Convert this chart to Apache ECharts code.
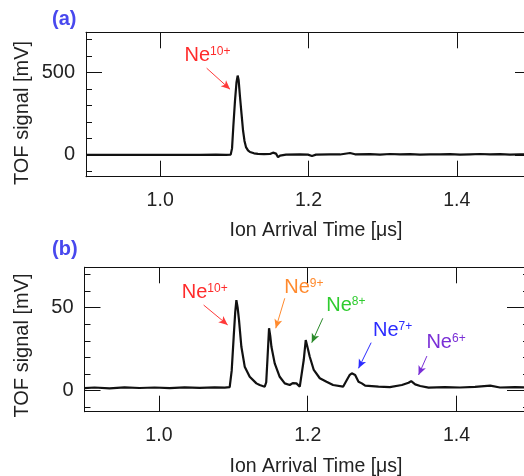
<!DOCTYPE html>
<html>
<head>
<meta charset="utf-8">
<script src="https://cdn.jsdelivr.net/npm/echarts@6/dist/echarts.min.js"></script>
<style>html,body{margin:0;padding:0;background:#fff}#c{width:524px;height:476px}</style>
</head>
<body>
<div id="c"></div>
<script>
// ---------- data ----------
const xTickValues = [1.0, 1.2, 1.4];
const xRange = [0.9, 1.5];

const topRange = [-132, 745];
const topMajor = [0, 500];
const topMinor = [-100, 100, 200, 300, 400, 600, 700];
const botRange = [-12.8, 74.4];
const botMajor = [0, 50];
const botMinor = [-10, 10, 20, 30, 40, 60, 70];

// panel (a): arrival time [us], signal [mV]
const timeA = [0.9000,0.9189,0.9458,0.9728,0.9998,1.0267,1.0537,1.0753,1.0888,1.0951,1.0969,1.0986,1.1009,1.1029,1.1045,1.1058,1.1076,1.1097,1.1117,1.1137,1.1157,1.1184,1.1211,1.1265,1.1319,1.1400,1.1481,1.1521,1.1542,1.1562,1.1589,1.1616,1.1697,1.1885,1.1993,1.2047,1.2101,1.2290,1.2425,1.2560,1.2627,1.2829,1.2964,1.3099,1.3234,1.3369,1.3503,1.3638,1.3773,1.3908,1.4043,1.4178,1.4313,1.4447,1.4582,1.4717,1.4852,1.5000];
const signalA = [0,1,0,1,0,1,0,2,1,2,40,170,330,440,482,455,355,250,150,85,48,28,18,10,7,5,6,14,26,8,-14,-4,2,4,2,-6,2,4,3,12,4,5,2,6,3,5,2,4,3,5,2,4,6,3,5,2,4,3];

// panel (b)
const timeB = [0.9000,0.9135,0.9336,0.9538,0.9740,0.9942,1.0144,1.0345,1.0547,1.0749,1.0884,1.0951,1.0978,1.1005,1.1025,1.1041,1.1058,1.1076,1.1108,1.1153,1.1220,1.1310,1.1354,1.1422,1.1442,1.1458,1.1480,1.1496,1.1512,1.1556,1.1623,1.1691,1.1758,1.1798,1.1848,1.1893,1.1915,1.1946,1.1973,1.2000,1.2027,1.2081,1.2162,1.2252,1.2340,1.2475,1.2525,1.2565,1.2592,1.2637,1.2682,1.2727,1.2771,1.2951,1.3103,1.3265,1.3355,1.3390,1.3444,1.3511,1.3624,1.3843,1.4045,1.4247,1.4453,1.4583,1.4785,1.5000];
const signalB = [1.4,1.8,1.3,1.9,1.5,1.8,1.4,1.9,1.6,1.9,1.7,2.0,12,32.5,47,54.6,50,42.6,26.4,14.4,8.3,4.3,3.3,2.3,5,18.4,37.6,33,26.4,16.4,8.3,4.3,3.3,4.5,4.3,2.3,3.3,18.4,30.5,25.5,20.4,12.4,7.4,5.3,3.3,2.3,6.3,9.5,10.4,9.4,5.3,4.3,2.9,2.3,2.0,3.3,4.7,5.7,3.7,2.7,1.7,2.1,1.8,2.2,2.9,1.8,2.0,1.9];

const ionNames = ['Ne', 'Ne', 'Ne', 'Ne', 'Ne', 'Ne'];
const ionCharges = ['10+', '10+', '9+', '8+', '7+', '6+'];
const panelLabels = ['(a)', '(b)'];
const xTitle = 'Ion Arrival Time [\u03bcs]';
const yTitle = 'TOF signal [mV]';

// ---------- layout / style ----------
const FONT = "'Liberation Sans', Arial, Helvetica, sans-serif";
const INK = '#111';
// annotation layout in data coordinates: panel, label top-left, arrow start, arrow end, colours
const annLayout = [
  {p:0, lab:[1.0335, 662], a:[1.0627, 527], b:[1.0942, 399], tc:'#ff2b2b', ac:'#ff3a3a'},
  {p:1, lab:[1.0314, 64.9], a:[1.0601, 51.6], b:[1.0924, 39.6], tc:'#ff2b2b', ac:'#ff3a3a'},
  {p:1, lab:[1.1691, 67.9], a:[1.1691, 55.7], b:[1.1570, 37.6], tc:'#ff8a2e', ac:'#ff8a2e'},
  {p:1, lab:[1.2256, 56.9], a:[1.2202, 43.6], b:[1.2054, 28.9], tc:'#2fcc2f', ac:'#2a8a2a'},
  {p:1, lab:[1.2884, 41.8], a:[1.2852, 28.9], b:[1.2682, 13.4], tc:'#2b2bff', ac:'#2b2bff'},
  {p:1, lab:[1.3601, 34.7], a:[1.3601, 20.8], b:[1.3489, 9.4], tc:'#7a2fd6', ac:'#7a2fd6'}
];

function xAx(grid, pos, labels, margin) {
  return {
    type: 'value', gridIndex: grid, position: pos, min: xRange[0], max: xRange[1],
    axisLine: {show: true, onZero: false, lineStyle: {color: INK, width: 1}},
    axisTick: {show: true, inside: true, length: 16, customValues: xTickValues, lineStyle: {color: INK, width: 1}},
    axisLabel: {show: labels, customValues: xTickValues, formatter: v => Number(v).toFixed(1),
      fontSize: 19.5, color: '#222', fontFamily: FONT, margin: margin},
    splitLine: {show: false}
  };
}
function yAx(grid, pos, range, ticks, len, labels) {
  return {
    type: 'value', gridIndex: grid, position: pos, min: range[0], max: range[1],
    axisLine: {show: true, onZero: false, lineStyle: {color: INK, width: 1}},
    axisTick: {show: true, inside: true, length: len, customValues: ticks, lineStyle: {color: INK, width: 1}},
    axisLabel: {show: labels, customValues: ticks, fontSize: 20, color: '#222', fontFamily: FONT, margin: 11},
    splitLine: {show: false}
  };
}

function annotations(panel) {
  const pts = [], lines = [];
  annLayout.forEach((a, i) => {
    if (a.p !== panel) return;
    pts.push({
      coord: a.lab, symbol: 'circle', symbolSize: 1, itemStyle: {color: 'rgba(0,0,0,0)'},
      label: {
        show: true, position: [0, 0], align: 'left', verticalAlign: 'top',
        formatter: '{n|' + ionNames[i] + '}{s|' + ionCharges[i] + '}',
        rich: {
          n: {fontSize: 20, lineHeight: 20, color: a.tc, fontFamily: FONT},
          s: {fontSize: 12, lineHeight: 8, verticalAlign: 'top', color: a.tc, fontFamily: FONT}
        }
      }
    });
    lines.push([{coord: a.a, lineStyle: {color: a.ac, width: 1, type: 'solid'}}, {coord: a.b}]);
  });
  return {
    markPoint: {silent: true, animation: false, data: pts},
    markLine: {silent: true, animation: false, symbol: ['none', 'arrow'], symbolSize: [6, 9],
      label: {show: false}, data: lines}
  };
}

const annA = annotations(0), annB = annotations(1);
const chart = echarts.init(document.getElementById('c'), null, {renderer: 'canvas'});
chart.setOption({
  animation: false,
  backgroundColor: '#fff',
  grid: [
    {left: 86, top: 32.3, width: 445, height: 144.4, containLabel: false, outerBoundsMode: 'none'},
    {left: 84.5, top: 267.3, width: 446.5, height: 144.4, containLabel: false, outerBoundsMode: 'none'}
  ],
  xAxis: [
    xAx(0, 'bottom', true, 13.5), xAx(0, 'top', false, 8),
    xAx(1, 'bottom', true, 14), xAx(1, 'top', false, 8)
  ],
  yAxis: [
    yAx(0, 'left', topRange, topMajor, 16, true),
    yAx(0, 'left', topRange, topMinor, 6, false),
    yAx(0, 'right', topRange, topMajor, 16, false),
    yAx(0, 'right', topRange, topMinor, 6, false),
    yAx(1, 'left', botRange, botMajor, 16, true),
    yAx(1, 'left', botRange, botMinor, 6, false),
    yAx(1, 'right', botRange, botMajor, 24, false),
    yAx(1, 'right', botRange, botMinor, 8, false)
  ],
  series: [
    Object.assign({
      type: 'line', xAxisIndex: 0, yAxisIndex: 0, symbol: 'none', showSymbol: false,
      data: timeA.map((t, i) => [t, signalA[i]]),
      lineStyle: {color: INK, width: 2.2}
    }, annA),
    Object.assign({
      type: 'line', xAxisIndex: 2, yAxisIndex: 4, symbol: 'none', showSymbol: false,
      data: timeB.map((t, i) => [t, signalB[i]]),
      lineStyle: {color: INK, width: 2.2}
    }, annB)
  ],
  graphic: [
    {type: 'text', left: 52, top: 9, style: {text: panelLabels[0], font: 'bold 20px ' + FONT, fill: '#4848ee'}},
    {type: 'text', left: 52, top: 239, style: {text: panelLabels[1], font: 'bold 20px ' + FONT, fill: '#4848ee'}},
    {type: 'text', x: 22, y: 113, rotation: Math.PI / 2,
      style: {text: yTitle, font: '20px ' + FONT, fill: '#222', align: 'center', verticalAlign: 'middle'}},
    {type: 'text', x: 22, y: 345.5, rotation: Math.PI / 2,
      style: {text: yTitle, font: '20px ' + FONT, fill: '#222', align: 'center', verticalAlign: 'middle'}},
    {type: 'text', x: 316, y: 231, style: {text: xTitle, font: '19.5px ' + FONT, fill: '#222', align: 'center', verticalAlign: 'middle'}},
    {type: 'text', x: 316, y: 467, style: {text: xTitle, font: '19.5px ' + FONT, fill: '#222', align: 'center', verticalAlign: 'middle'}}
  ]
});
</script>
</body>
</html>
